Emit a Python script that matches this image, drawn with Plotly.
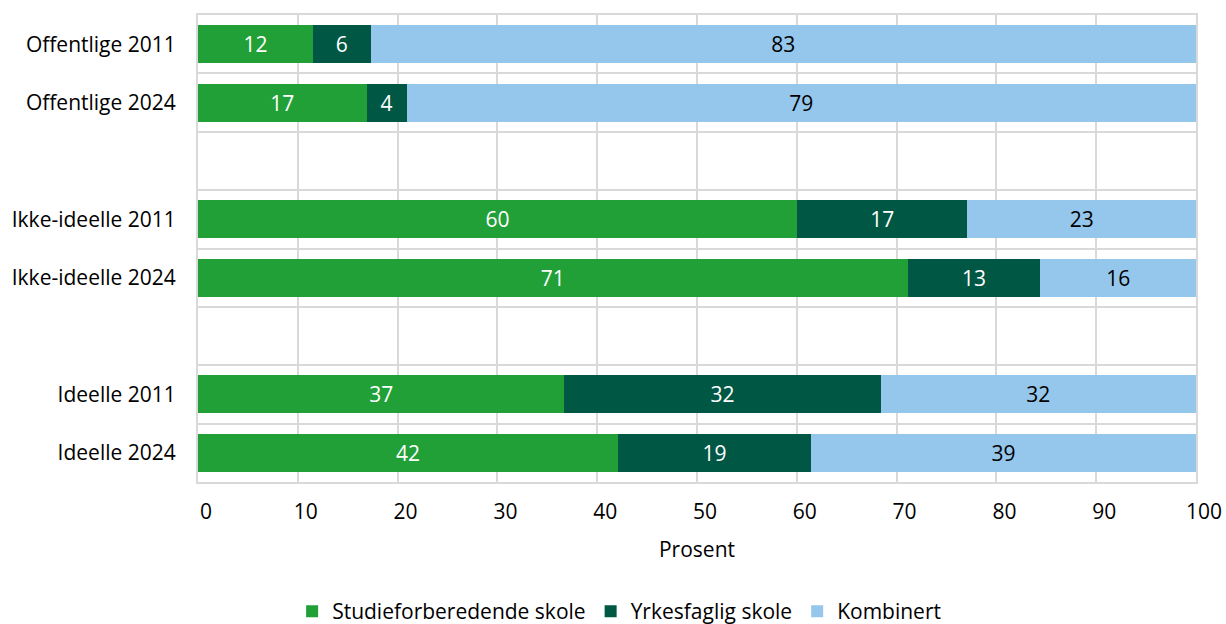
import plotly.graph_objects as go

categories = ["Offentlige 2011", "Offentlige 2024", " ",
              "Ikke-ideelle 2011", "Ikke-ideelle 2024", "  ",
              "Ideelle 2011", "Ideelle 2024"]
studie = [11.5, 16.9, None, 60.0, 71.1, None, 36.7, 42.1]
yrkes = [5.8, 4.0, None, 17.1, 13.3, None, 31.7, 19.3]
kombinert = [82.7, 79.1, None, 22.9, 15.6, None, 31.6, 38.6]

series = [
    ("Studieforberedende skole", studie, "#21A038", "white"),
    ("Yrkesfaglig skole", yrkes, "#005744", "white"),
    ("Kombinert", kombinert, "#95C7EC", "black"),
]

FONT = "Open Sans"
FS = 21
GRID = "#D9D9D9"
fig = go.Figure()
for name, vals, color, tcolor in series:
    fig.add_trace(go.Bar(
        y=categories, x=vals, name=name, orientation="h",
        marker=dict(color=color, line=dict(width=0)),
        texttemplate="%{x:.0f}", textposition="inside",
        insidetextanchor="middle", textangle=0,
        insidetextfont=dict(color=tcolor, size=FS, family=FONT),
        constraintext="none",
        hoverinfo="skip",
    ))

fig.update_layout(
    barmode="stack", bargap=0.35,
    width=1226, height=624,
    margin=dict(l=198, r=30, t=15, b=142),
    paper_bgcolor="white", plot_bgcolor="white",
    font=dict(family=FONT, size=FS, color="black"),
    showlegend=True,
    legend=dict(orientation="h", xref="container", x=0.505, xanchor="center",
                yref="container", y=0.02, yanchor="middle",
                font=dict(size=FS, family=FONT), traceorder="normal",
                itemwidth=30),
    xaxis=dict(range=[0, 100], dtick=10, tick0=0, showgrid=True,
               gridcolor=GRID, gridwidth=2, zeroline=False,
               showline=True, linecolor=GRID, linewidth=2, mirror=True,
               ticks="", ticklabelstandoff=10, ticklabelshift=8,
               automargin=False,
               title=dict(text="Prosent", standoff=18, font=dict(size=FS)),
               tickfont=dict(size=FS)),
    yaxis=dict(type="category", categoryorder="array", categoryarray=categories,
               autorange="reversed", tickson="boundaries", showgrid=True,
               gridcolor=GRID, gridwidth=2, ticks="", automargin=False,
               showline=True, linecolor=GRID, linewidth=2, mirror=True,
               ticklabelstandoff=16, tickfont=dict(size=FS)),
)
fig.write_html("out.html", config={"displayModeBar": False},
               post_script="document.body.style.margin='0';document.body.style.padding='0';")
